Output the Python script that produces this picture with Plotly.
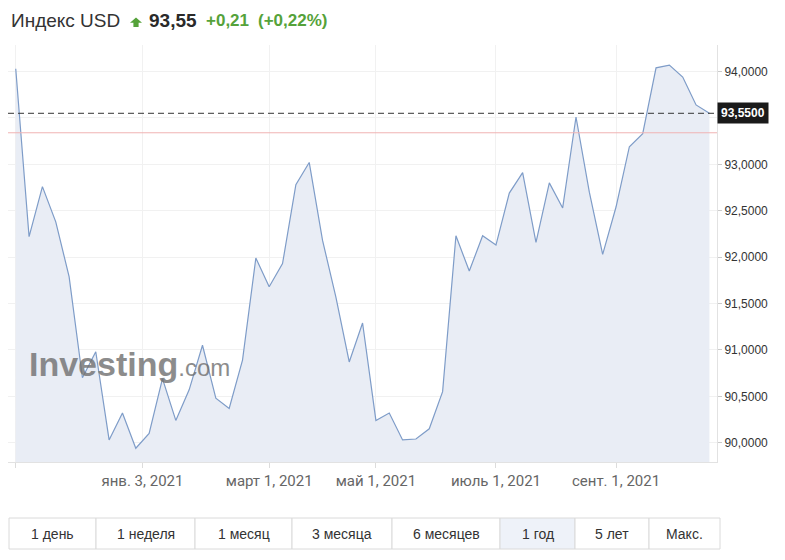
import plotly.graph_objects as go

# ---------------- data ----------------
week_index = list(range(53))
usd_index = [94.03, 92.22, 92.76, 92.38, 91.79, 90.70, 90.98, 90.03, 90.32, 89.94,
             90.10, 90.69, 90.24, 90.57, 91.05, 90.48, 90.37, 90.89, 91.99, 91.68,
             91.93, 92.78, 93.02, 92.18, 91.57, 90.87, 91.29, 90.24, 90.32, 90.03,
             90.04, 90.15, 90.55, 92.23, 91.85, 92.23, 92.13, 92.69, 92.91, 92.16,
             92.80, 92.53, 93.51, 92.70, 92.03, 92.54, 93.19, 93.33, 94.04, 94.07,
             93.94, 93.64, 93.55]
last_value = 93.55
prev_close = 93.34
x_tick_pos = [0, 9.5, 19, 27, 36, 45]
x_tick_text = ["", "янв. 3, 2021", "март 1, 2021", "май 1, 2021", "июль 1, 2021", "сент. 1, 2021"]
y_ticks = [90.0, 90.5, 91.0, 91.5, 92.0, 92.5, 93.0, 93.5, 94.0]
y_tick_text = ["90,0000", "90,5000", "91,0000", "91,5000", "92,0000", "92,5000", "93,0000", "", "94,0000"]
buttons = ["1 день", "1 неделя", "1 месяц", "3 месяца", "6 месяцев", "1 год", "5 лет", "Макс."]
active_button = "1 год"
title_name = "Индекс USD"
title_price = "93,55"
title_change = "+0,21"
title_pct = "(+0,22%)"
last_label = "93,5500"

# ---------------- layout geometry (screen pixels; page body has 8px margin) ----------------
OFF = 8
W, H = 785 - 2 * OFF, 560 - 2 * OFF
L, R, T, B = 8, 717, 45, 462  # plot area in screen pixels


def px(xp):
    return (xp - L) / (R - L)


def py(yp):
    return (B - yp) / (B - T)


GREEN = "#55a23a"
FONT = "Liberation Sans, Arial, sans-serif"

fig = go.Figure()
fig.add_trace(go.Scatter(
    x=week_index, y=usd_index, mode="lines",
    line=dict(color="#7e9cc8", width=1.2),
    fill="tozeroy", fillcolor="#e9edf5",
    hoverinfo="skip", showlegend=False,
))

shapes = []
shapes.append(dict(type="line", xref="paper", yref="y", x0=0, x1=1, y0=prev_close, y1=prev_close,
                   line=dict(color="#f0b3b3", width=1)))
shapes.append(dict(type="line", xref="paper", yref="y", x0=0, x1=1, y0=last_value, y1=last_value,
                   line=dict(color="#333333", width=1, dash="6px,4px")))
# green arrow in header
ax0, ax1, amid = 130, 142, 136
shapes.append(dict(type="path", xref="paper", yref="paper", layer="above",
                   path=(f"M {px(ax0)} {py(22.8)} L {px(amid)} {py(17.5)} L {px(ax1)} {py(22.8)} "
                         f"L {px(138.6)} {py(22.8)} L {px(138.6)} {py(27)} L {px(133.4)} {py(27)} "
                         f"L {px(133.4)} {py(22.8)} Z"),
                   fillcolor=GREEN, line=dict(width=0)))

# button row
btn_edges = [9, 96, 195, 292, 392, 500, 575, 649, 720]
btn_top, btn_bot = 518, 549
annotations = []
for i, lab in enumerate(buttons):
    x0, x1 = btn_edges[i], btn_edges[i + 1]
    shapes.append(dict(type="rect", xref="paper", yref="paper",
                       x0=px(x0), x1=px(x1), y0=py(btn_bot), y1=py(btn_top),
                       fillcolor="#eef2f9" if lab == active_button else "#ffffff",
                       line=dict(color="#dadada", width=1)))
    annotations.append(dict(xref="paper", yref="paper", x=px((x0 + x1) / 2), y=py(534),
                            text=lab, showarrow=False, xanchor="center", yanchor="middle",
                            font=dict(family=FONT, size=14, color="#333333")))

# header texts
annotations += [
    dict(xref="paper", yref="paper", x=px(9), y=py(21), text=title_name, showarrow=False,
         xanchor="left", yanchor="middle", font=dict(family=FONT, size=19, color="#333333")),
    dict(xref="paper", yref="paper", x=px(147), y=py(21), text=f"<b>{title_price}</b>", showarrow=False,
         xanchor="left", yanchor="middle", font=dict(family=FONT, size=19, color="#2a2a2a")),
    dict(xref="paper", yref="paper", x=px(204), y=py(21), text=f"<b>{title_change}</b>", showarrow=False,
         xanchor="left", yanchor="middle", font=dict(family=FONT, size=17, color=GREEN)),
    dict(xref="paper", yref="paper", x=px(256), y=py(21), text=f"<b>{title_pct}</b>", showarrow=False,
         xanchor="left", yanchor="middle", font=dict(family=FONT, size=17, color=GREEN)),
]
# last value label box
annotations.append(dict(xref="paper", yref="y", x=1, y=last_value, text=f"<b>{last_label}</b>",
                        showarrow=False, xanchor="left", yanchor="middle", bgcolor="#1a1a1a", borderpad=3,
                        font=dict(family=FONT, size=12, color="#ffffff")))
# watermark
annotations.append(dict(xref="paper", yref="paper", x=px(27), y=py(364),
                        text="<b>Investing</b><span style='font-size:24px'>.com</span>",
                        showarrow=False, xanchor="left", yanchor="middle", opacity=0.8,
                        font=dict(family=FONT, size=34, color="#707070")))

fig.update_layout(
    width=W, height=H,
    margin=dict(l=L - OFF, r=W - (R - OFF), t=T - OFF, b=H - (B - OFF), pad=0),
    paper_bgcolor="#ffffff", plot_bgcolor="#ffffff",
    separators=", ",
    shapes=shapes, annotations=annotations,
    showlegend=False, hovermode=False,
    xaxis=dict(range=[-0.58, 52.57], tickmode="array", tickvals=x_tick_pos, ticktext=x_tick_text,
               showgrid=True, gridcolor="#f1f1f1", gridwidth=1, zeroline=False,
               showline=True, linecolor="#e2e2e2", linewidth=1,
               ticks="outside", ticklen=5, tickcolor="#dcdcdc",
               tickfont=dict(family="Roboto, sans-serif", size=15, color="#666666"), fixedrange=True),
    yaxis=dict(side="right", range=[89.792, 94.286], tickmode="array", tickvals=y_ticks,
               ticktext=y_tick_text, showgrid=True, gridcolor="#f1f1f1", gridwidth=1, zeroline=False,
               showline=True, linecolor="#e2e2e2", linewidth=1,
               ticks="outside", ticklen=4, tickcolor="#cccccc",
               tickfont=dict(family=FONT, size=12, color="#333333"), fixedrange=True),
)

fig.write_html("out.html")
